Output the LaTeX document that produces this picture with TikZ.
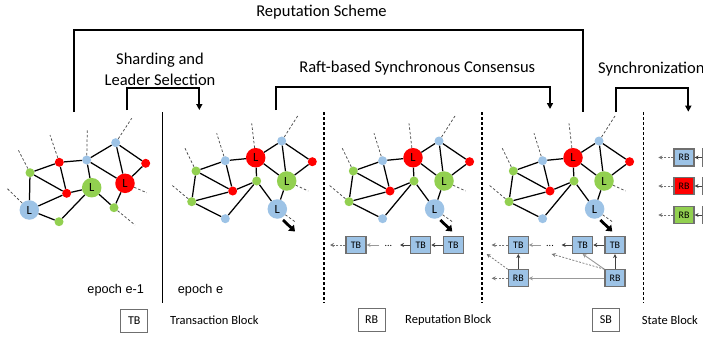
\documentclass[tikz,border=0pt]{standalone}
\usepackage{fontspec}
\setmainfont{Carlito}
\newfontfamily\arialf{Liberation Sans}
\usetikzlibrary{arrows.meta}
\definecolor{nblue}{HTML}{9DC3E6}
\definecolor{nred}{HTML}{FF0000}
\definecolor{ngreen}{HTML}{92D050}
\definecolor{bxline}{HTML}{6F6F6F}
\tikzset{
  sn/.style={circle,minimum size=9pt,inner sep=0pt},
  ln/.style={circle,minimum size=19.5pt,inner sep=0pt,font=\fontsize{12.5}{12.5}\selectfont},
  ed/.style={line width=1.25pt},
  dl/.style={line width=0.75pt,draw=black!70,dash pattern=on 2.5pt off 2pt},
  thk/.style={line width=2.8pt,-{Triangle[length=5.5pt,width=8pt]}},
  cb/.style={draw=bxline,fill=nblue,minimum width=20pt,minimum height=17pt,inner sep=0pt,line width=1.1pt,font=\fontsize{10}{10}\selectfont},
  legbox/.style={draw=bxline,fill=white,minimum width=27pt,minimum height=23pt,inner sep=0pt,line width=1pt,font=\fontsize{12}{12}\selectfont},
  ar/.style={draw=black!75,line width=0.8pt,-{Stealth[length=4pt,width=4pt]}},
  arg/.style={draw=black!40,line width=0.9pt,-{Stealth[length=4pt,width=4pt]}},
  ard/.style={draw=black!55,line width=0.7pt,dash pattern=on 2pt off 1.5pt,-{Stealth[length=4pt,width=4pt]}},
  br/.style={line width=1.8pt},
  bra/.style={line width=1.8pt,-{Triangle[length=6pt,width=6pt]}},
  hd/.style={font=\fontsize{16.5}{20.5}\selectfont,inner sep=0pt},
  lg/.style={font=\fontsize{12.5}{14}\selectfont,inner sep=0pt},
  ep/.style={font=\arialf\fontsize{12.7}{14}\selectfont,inner sep=0pt},
  sep/.style={line width=1.2pt,dash pattern=on 3pt off 2pt},
}
\newcommand\netB[1]{%
  \node[sn,fill=nblue] (#1bt) at (281.7,141) {};
  \node[sn,fill=nred] (#1rr) at (312.3,161.7) {};
  \node[ln,fill=nred] (#1rL) at (255.7,157.7) {L};
  \node[ln,fill=ngreen] (#1gL) at (286.7,181) {L};
  \node[ln,fill=nblue] (#1bL) at (277.3,209) {L};
  \node[sn,fill=ngreen] (#1gm) at (256.7,181) {};
  \node[sn,fill=nred] (#1rm) at (232.7,191) {};
  \node[sn,fill=nblue] (#1btl) at (225.3,160.7) {};
  \node[sn,fill=ngreen] (#1gl) at (196,171) {};
  \node[sn,fill=ngreen] (#1gbl) at (191.7,201.7) {};
  \node[sn,fill=nblue] (#1bb) at (225.3,218.7) {};
  \draw[ed] (#1gl)--(#1btl) (#1gl)--(#1rm) (#1gl)--(#1gbl) (#1btl)--(#1rm)
    (#1btl)--(#1rL) (#1gbl)--(#1rm) (#1gbl)--(#1bb) (#1bb)--(#1gm)
    (#1rm)--(#1gm) (#1gm)--(#1rL) (#1gm)--(#1bL) (#1rL)--(#1bt)
    (#1rL)--(#1gL) (#1bt)--(#1gL) (#1bt)--(#1rr) (#1rr)--(#1gL) (#1gL)--(#1bL);
  \coordinate (#1d1) at (185,148.3);
  \coordinate (#1d2) at (216.7,133.3);
  \coordinate (#1d3) at (251.7,123.3);
  \coordinate (#1d4) at (298.3,115);
  \coordinate (#1d5) at (308.3,191);
  \coordinate (#1d6) at (171.7,185);
  \coordinate (#1d7) at (295,221.7);
  \draw[dl] (#1gl)--(#1d1) (#1btl)--(#1d2) (#1rL)--(#1d3) (#1bt)--(#1d4)
    (#1gL)--(#1d5) (#1gbl)--(#1d6) (#1bL)--(#1d7);
  \coordinate (#1ta) at (283,220);
  \coordinate (#1tb) at (295,231.5);
  \draw[thk] (#1ta)--(#1tb);
}
\begin{document}
\begin{tikzpicture}[x=1pt,y=-1pt]
\useasboundingbox[fill=white] (0,0) rectangle (703,337);

% headings
\node[hd] (trep) at (321.5,11.7) {Reputation Scheme};
\node[hd,align=center] (tshard) at (160,69.5) {Sharding and\\Leader Selection};
\node[hd] (traft) at (417.3,67.7) {Raft-based Synchronous Consensus};
\node[hd,anchor=west] (tsync) at (598,69.3) {Synchronization};

% brackets
\coordinate (r1) at (74.3,112); \coordinate (r2) at (74.3,30);
\coordinate (r3) at (583.3,30); \coordinate (r4) at (583.3,112);
\draw[br,line join=miter] (r1)--(r2)--(r3)--(r4);
\coordinate (s1) at (127.3,110); \coordinate (s2) at (127.3,88.3);
\coordinate (s3) at (199.3,88.3); \coordinate (s4) at (199.3,110);
\draw[bra] (s1)--(s2)--(s3)--(s4);
\coordinate (f1) at (275.7,110); \coordinate (f2) at (275.7,86.7);
\coordinate (f3) at (550,86.7); \coordinate (f4) at (550,109);
\draw[bra] (f1)--(f2)--(f3)--(f4);
\coordinate (y1) at (616,112); \coordinate (y2) at (616,88.3);
\coordinate (y3) at (688.3,88.3); \coordinate (y4) at (688.3,111.7);
\draw[bra] (y1)--(y2)--(y3)--(y4);

% separators
\draw[line width=1.4pt] (162.7,112)--(162.7,303);
\draw[sep] (324,112)--(324,303);
\draw[sep] (482,112)--(482,303);
\draw[sep] (643.3,112)--(643.3,303);

% graph 1 (epoch e-1)
\node[sn,fill=nblue] (bt1) at (115.7,142.7) {};
\node[sn,fill=nred] (rr1) at (145.7,163.3) {};
\node[ln,fill=nred] (rL1) at (125,183.3) {L};
\node[sn,fill=nblue] (bm1) at (86.7,160) {};
\node[sn,fill=nred] (rtl1) at (59.3,162.3) {};
\node[sn,fill=ngreen] (gl1) at (30,172.7) {};
\node[sn,fill=nred] (rm1) at (66.7,193.3) {};
\node[ln,fill=ngreen] (gL1) at (91.7,187.7) {L};
\node[ln,fill=nblue] (bL1) at (29.3,210) {L};
\node[sn,fill=ngreen] (gb1) at (59,221.7) {};
\node[sn,fill=ngreen] (grb1) at (114,207.7) {};
\draw[ed] (bL1)--(gl1) (gl1)--(rtl1) (gl1)--(rm1) (rtl1)--(rm1) (rtl1)--(bm1)
  (bL1)--(rm1) (bL1)--(gb1) (gb1)--(gL1) (rm1)--(gL1) (gL1)--(bm1)
  (bm1)--(bt1) (bm1)--(rL1) (bt1)--(rL1) (bt1)--(rr1) (rr1)--(rL1)
  (rL1)--(grb1) (gL1)--(grb1);
\coordinate (e1) at (6.7,188);
\coordinate (e2) at (18.3,150);
\coordinate (e3) at (50,135);
\coordinate (e4) at (87.3,130);
\coordinate (e5) at (131.7,118.3);
\coordinate (e6) at (146.7,192.7);
\coordinate (e7) at (135,225);
\draw[dl] (bL1)--(e1) (gl1)--(e2) (rtl1)--(e3) (bm1)--(e4) (bt1)--(e5)
  (rL1)--(e6) (grb1)--(e7);

% graphs 2-4
\netB{b}
\begin{scope}[xshift=157.3pt]\netB{c}\end{scope}
\begin{scope}[xshift=317.3pt]\netB{d}\end{scope}

% epoch labels
\node[ep] (ep1) at (115.7,290) {epoch e-1};
\node[ep] (ep2) at (200.5,290) {epoch e};

% chain in graph 3
\node[cb] (ctb1) at (356,245) {TB};
\node[cb] (ctb2) at (420.7,245) {TB};
\node[cb] (ctb3) at (453.3,245) {TB};
\draw[ar] (ctb3)--(ctb2);
\coordinate (ca1) at (400,245);
\draw[ar] (ctb2)--(ca1);
\node[font=\fontsize{10}{10}\selectfont,inner sep=0pt] (cdots) at (388.3,246) {...};
\coordinate (ca2) at (379.3,245);
\draw[arg] (ca2)--(ctb1);
\coordinate (ca3) at (330,245);
\draw[ard] (ctb1)--(ca3);

% chain in graph 4
\node[cb] (dtb1) at (518.3,245) {TB};
\node[cb] (dtb2) at (582.7,245) {TB};
\node[cb] (dtb3) at (615,245) {TB};
\node[cb] (drb1) at (518.3,278.3) {RB};
\node[cb] (drb2) at (615,278.3) {RB};
\draw[ar] (dtb3)--(dtb2);
\coordinate (da1) at (561.7,245);
\draw[ar] (dtb2)--(da1);
\node[font=\fontsize{10}{10}\selectfont,inner sep=0pt] (ddots) at (550,246) {...};
\coordinate (da2) at (541,245);
\draw[arg] (da2)--(dtb1);
\coordinate (da3) at (491.7,245);
\draw[ard] (dtb1)--(da3);
\draw[ar] (drb1)--(dtb1);
\coordinate (da4) at (486.7,254);
\draw[ard] (drb1.north west)--(da4);
\coordinate (da5) at (491.7,278.3);
\draw[ard] (drb1)--(da5);
\draw[arg] (drb2)--(drb1);
\draw[ar] (drb2)--(dtb3);
\draw[arg] (drb2.north west)--(dtb2.south);
\coordinate (da6) at (551.7,254);
\draw[ard] (drb2.north west)--(da6);

% synchronization
\node[cb,fill=nblue] (sr1) at (684,157.5) {RB};
\node[cb,fill=nred] (sr2) at (684,186) {RB};
\node[cb,fill=ngreen] (sr3) at (684,215) {RB};
\node[cb,fill=nblue] (sx1) at (712.5,157.5) {};
\node[cb,fill=nblue] (sx2) at (712.5,186) {};
\node[cb,fill=nblue] (sx3) at (712.5,215) {};
\draw[ar] (sx1)--(sr1);
\draw[ar] (sx2)--(sr2);
\draw[ar] (sx3)--(sr3);
\coordinate (sy1) at (658.3,157.5);
\coordinate (sy2) at (658.3,186);
\coordinate (sy3) at (658.3,215);
\draw[ard] (sr1)--(sy1);
\draw[ard] (sr2)--(sy2);
\draw[ard] (sr3)--(sy3);

% legend
\node[legbox] (ltb) at (134.2,320.5) {TB};
\node[lg,anchor=west] (ltbt) at (170,320.5) {Transaction Block};
\node[legbox] (lrb) at (371.7,320) {RB};
\node[lg,anchor=west] (lrbt) at (405,320) {Reputation Block};
\node[legbox] (lsb) at (606,320) {SB};
\node[lg,anchor=west] (lsbt) at (641.7,320) {State Block};
\end{tikzpicture}
\end{document}
